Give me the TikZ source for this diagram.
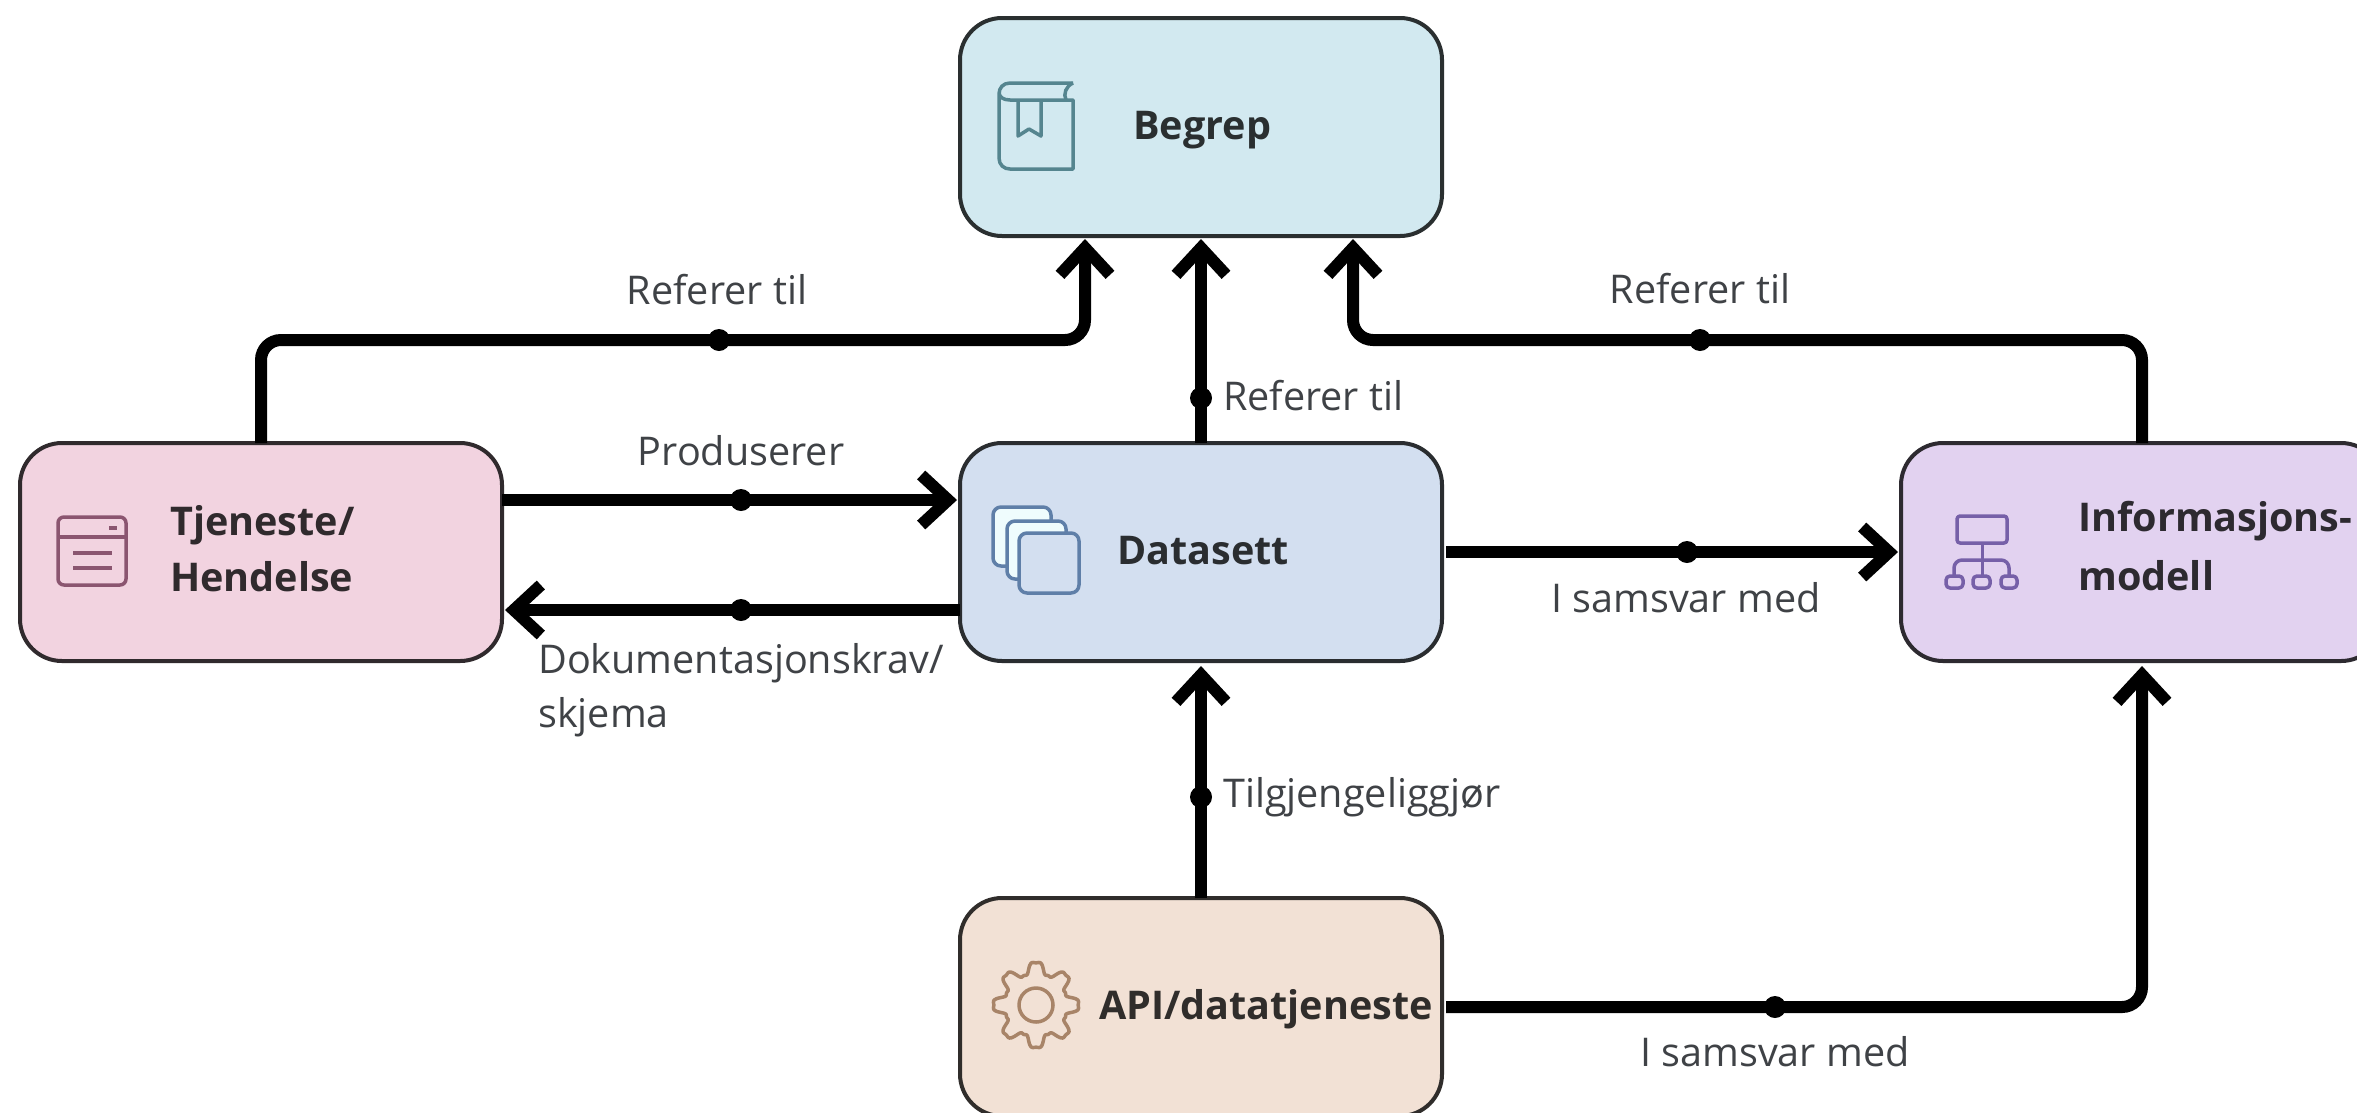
\documentclass[tikz,border=0pt]{standalone}
\usepackage{fontspec}
\setmainfont{Open Sans}
\usetikzlibrary{arrows.meta}
\definecolor{cbg}{HTML}{D2E9F0}\definecolor{ctj}{HTML}{F2D3E0}\definecolor{cda}{HTML}{D3DFF0}
\definecolor{cin}{HTML}{E2D2F0}\definecolor{cap}{HTML}{F2E1D5}
\definecolor{lbl}{HTML}{3F4246}
\definecolor{ibg}{HTML}{55858F}\definecolor{itj}{HTML}{8B5570}\definecolor{ida}{HTML}{5F7FA8}
\definecolor{iin}{HTML}{7660A8}\definecolor{iap}{HTML}{A88468}
\tikzset{
  x=1bp,y=-1bp,
  entity/.style={draw=#1,line width=4bp,rounded corners=42bp,minimum width=482bp,minimum height=218bp,inner sep=0pt,outer sep=0pt},
  conn/.style={line width=12bp,black,rounded corners=20bp,-{Straight Barb[length=27bp,width=50bp,line width=12bp]}},
  dot/.style={circle,fill=black,inner sep=0pt,minimum size=22bp},
  lab/.style={text=lbl,font=\fontsize{39.7}{54}\selectfont,inner sep=0pt,align=left},
  head/.style={font=\fontsize{39.7}{56}\selectfont\bfseries,inner sep=0pt,align=left},
  icon/.style={line width=3.5bp,rounded corners=#1,line join=round}
}
\begin{document}
\begin{tikzpicture}
\clip (0,0) rectangle (2357,1112);
\fill[white] (0,0) rectangle (2357,1112);
\node[entity=black!80!cbg,fill=cbg,anchor=north west] (bg) at (960,18) {};
\node[entity=black!80!ctj,fill=ctj,anchor=north west] (tj) at (20,443) {};
\node[entity=black!80!cda,fill=cda,anchor=north west] (da) at (960,443) {};
\node[entity=black!80!cin,fill=cin,anchor=north west] (in) at (1901,443) {};
\node[entity=black!80!cap,fill=cap,anchor=north west] (ap) at (960,898) {};
% connectors
\coordinate (c1) at (1085,340);
\coordinate (c2) at (1353,340);
\draw[conn] (tj.north) |- (c1) -- ([xshift=-116bp,yshift=-3bp]bg.south);
\draw[conn] (da.north) -- ([yshift=-3bp]bg.south);
\draw[conn] (in.north) |- (c2) -- ([xshift=152bp,yshift=-3bp]bg.south);
\draw[conn] ([yshift=52bp]tj.east) -- ([xshift=-3bp,yshift=52bp]da.west);
\draw[conn] ([yshift=-58bp]da.west) -- ([xshift=3bp,yshift=-58bp]tj.east);
\draw[conn] ([xshift=4bp]da.east) -- ([xshift=-3bp]in.west);
\draw[conn] (ap.north) -- ([yshift=-5bp]da.south);
\draw[conn] ([xshift=4bp]ap.east) -| ([yshift=-5bp]in.south);
% dots
\node[dot] (d1) at (719,340) {};
\node[dot] (d2) at (1700,340) {};
\node[dot] (d3) at (1201,398) {};
\node[dot] (d4) at (741,500) {};
\node[dot] (d5) at (741,610) {};
\node[dot] (d6) at (1687,552) {};
\node[dot] (d7) at (1201,797) {};
\node[dot] (d8) at (1775,1007) {};
% connector labels
\node[lab] (l1) at (717,290) {Referer til};
\node[lab] (l2) at (1700,289) {Referer til};
\node[lab,anchor=west] (l3) at (1223,396) {Referer til};
\node[lab] (l4) at (741,451) {Produserer};
\node[lab,anchor=north west] (l5) at (538,643) {Dokumentasjonskrav/\\skjema};
\node[lab] (l6) at (1686,598) {I samsvar med};
\node[lab,anchor=west] (l7) at (1223,797) {Tilgjengeliggjør};
\node[lab] (l8) at (1775,1052) {I samsvar med};
% node labels
\node[head,anchor=west,text=black!80!cbg] (t1) at (1133,130) {Begrep};
\node[head,anchor=west,text=black!80!ctj] (t2) at (170,549) {Tjeneste/\\Hendelse};
\node[head,anchor=west,text=black!80!cda] (t3) at (1117,551) {Datasett};
\node[head,anchor=west,text=black!80!cin] (t4) at (2078,546) {Informasjons-\\[4bp]modell};
\node[head,anchor=west,text=black!80!cap] (t5) at (1099,1009) {API/datatjeneste};
% book icon
\begin{scope}[draw=ibg]
\draw[line width=3.5bp,line join=round] (1073,83) -- (1010,83) .. controls (1003,83) and (999,88) .. (999,94) -- (999,158) .. controls (999,165) and (1004,169) .. (1010,169) -- (1073,169) -- (1073,100) -- (1010,100) .. controls (1003,100) and (999,97) .. (999,92);
\draw[line width=3.5bp] (1073,83) .. controls (1066,86) and (1063,94) .. (1066,100);
\draw[line width=3.5bp,line join=round] (1018,100) -- (1018,136) -- (1029,129) -- (1041,136) -- (1041,100);
\end{scope}
% window icon
\begin{scope}[draw=itj]
\draw[icon=6bp] (58,517) rectangle (126,585);
\draw[line width=3.5bp] (58,537) -- (126,537);
\draw[line width=3.5bp] (109,528) -- (117,528);
\draw[line width=3.5bp] (73,553) -- (112,553);
\draw[line width=3.5bp] (73,568) -- (112,568);
\end{scope}
% stack icon
\begin{scope}[draw=ida]
\draw[icon=8bp,fill=cda!70!cyan!15!white] (993,507) rectangle (1051,566);
\draw[icon=8bp,fill=cda!70!cyan!15!white] (1007,521) rectangle (1066,579);
\draw[icon=8bp,fill=cda] (1019,533) rectangle (1079,593);
\end{scope}
% org icon
\begin{scope}[draw=iin]
\draw[icon=3bp] (1957,516) rectangle (2007,543);
\draw[line width=3bp] (1982,543) -- (1982,576);
\draw[icon=8bp] (1954,576) -- (1954,560) -- (2009,560) -- (2009,576);
\draw[icon=4bp] (1946,576) rectangle (1963,588);
\draw[icon=4bp] (1973,576) rectangle (1990,588);
\draw[icon=4bp] (2001,576) rectangle (2017,588);
\end{scope}
% gear icon
\draw[line width=3.5bp,draw=iap] plot[domain=0:360,samples=289,smooth] ({1036+(37+6.5*(cos(8*\x)-0.2*cos(24*\x)))*cos(\x)},{1005+(37+6.5*(cos(8*\x)-0.2*cos(24*\x)))*sin(\x)}) -- cycle;
\draw[line width=3.5bp,draw=iap] (1036,1005) circle (17);
\end{tikzpicture}
\end{document}
